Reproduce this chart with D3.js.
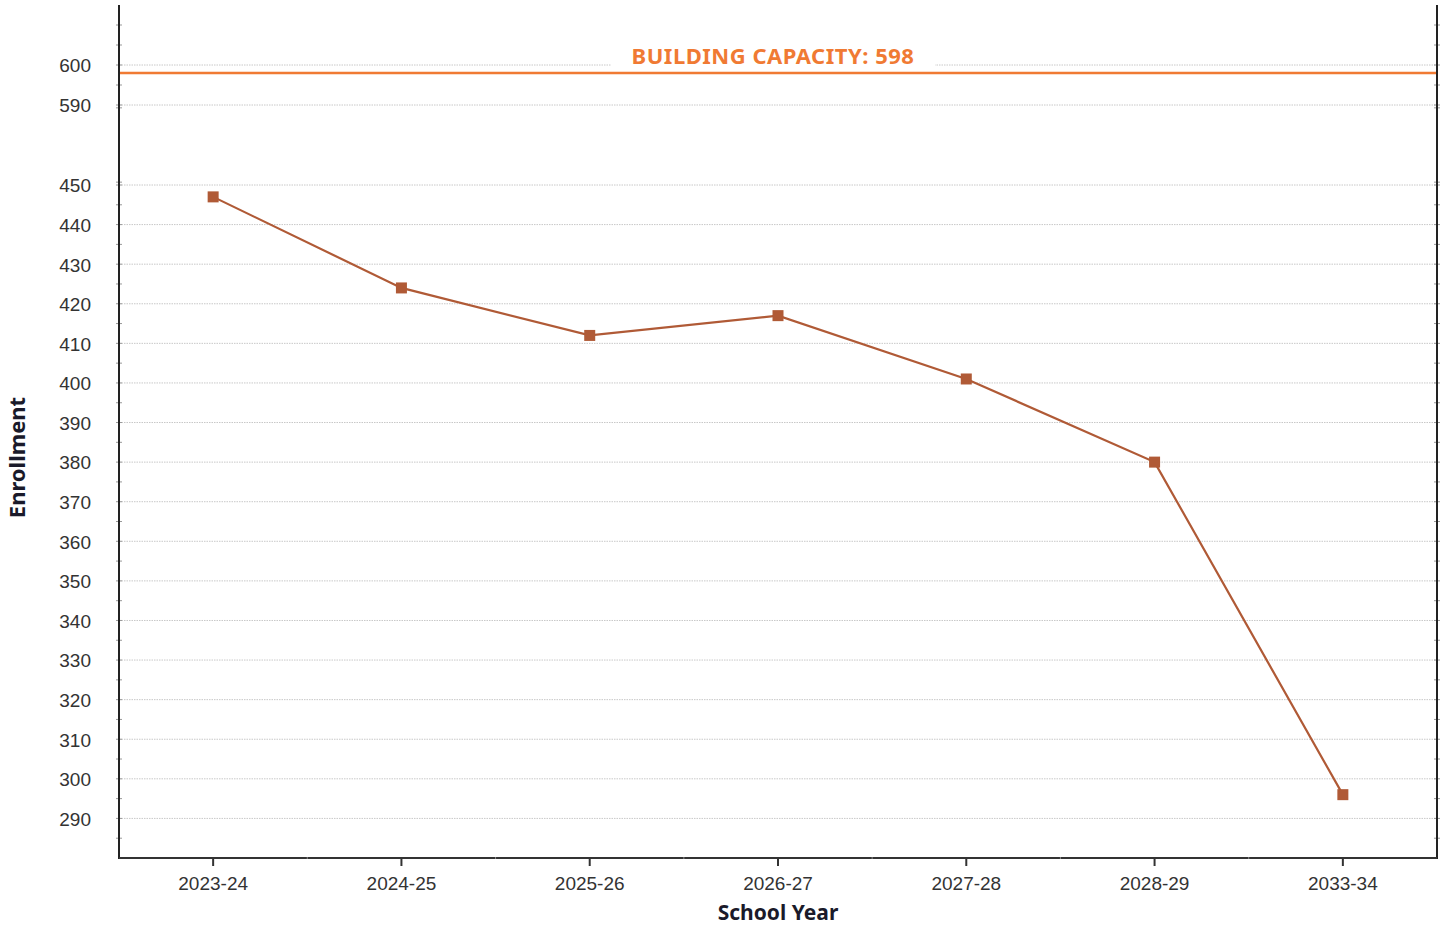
<!DOCTYPE html>
<html>
<head>
<meta charset="utf-8">
<script src="https://cdn.jsdelivr.net/npm/d3@7"></script>
<style>
  body { margin: 0; background: #fff; }
  svg { display: block; font-family: 'Noto Sans', sans-serif; }
  .tick text { fill: #333; font-size: 19px; }
</style>
</head>
<body>
<svg></svg>
<script>
// data
const years = ['2023-24', '2024-25', '2025-26', '2026-27', '2027-28', '2028-29', '2033-34'];
const enrollment = [447, 424, 412, 417, 401, 380, 296];
const capacity = 598;
const yTicks = [290, 300, 310, 320, 330, 340, 350, 360, 370, 380, 390, 400, 410, 420, 430, 440, 450, 590, 600];
const yMinorTicks = [285, 295, 305, 315, 325, 335, 345, 355, 365, 375, 385, 395, 405, 415, 425, 435, 445, 455, 585, 595, 605, 610];

const width = 1442;
const height = 926;
const plotLeft = 119, plotRight = 1437, plotTop = 5, plotBottom = 858;

const svg = d3.select('svg')
  .attr('width', width)
  .attr('height', height);

const xScale = d3.scaleBand()
  .domain(years)
  .range([plotLeft, plotRight]);

// broken axis: piecewise linear with a squeezed gap between 450 and 590
const yScale = d3.scaleLinear()
  .domain([280, 450, 590, 615])
  .range([plotBottom, 185, 105, plotTop]);

const lineColor = '#b05a36';
const capColor = '#f07a33';

// gridlines
svg.append('g')
  .selectAll('line')
  .data(yTicks)
  .enter()
  .append('line')
  .attr('x1', plotLeft)
  .attr('x2', plotRight)
  .attr('y1', d => yScale(d))
  .attr('y2', d => yScale(d))
  .attr('stroke', '#c8c8c8')
  .attr('stroke-width', 1)
  .attr('stroke-dasharray', '1.5,1');

// capacity line + label
svg.append('line')
  .attr('x1', plotLeft)
  .attr('x2', plotRight)
  .attr('y1', yScale(capacity))
  .attr('y2', yScale(capacity))
  .attr('stroke', capColor)
  .attr('stroke-width', 2.5);

const cx = (plotLeft + plotRight) / 2 - 5;
svg.append('rect')
  .attr('x', cx - 162)
  .attr('y', yScale(capacity) - 30)
  .attr('width', 324)
  .attr('height', 28)
  .attr('fill', '#fff');

svg.append('text')
  .attr('x', cx)
  .attr('y', yScale(capacity) - 9)
  .attr('text-anchor', 'middle')
  .attr('fill', capColor)
  .style('font-size', '22px')
  .style('font-weight', 'bold')
  .style('letter-spacing', '0.5px')
  .text(`BUILDING CAPACITY: ${capacity}`);

// axes
const yAxis = d3.axisLeft(yScale)
  .tickValues(yTicks)
  .tickSize(0)
  .tickPadding(28);

svg.append('g')
  .attr('transform', `translate(${plotLeft}, 0)`)
  .call(yAxis)
  .call(g => g.select('.domain').remove())
  .call(g => g.selectAll('.tick text').attr('text-anchor', 'end').attr('dy', '0.36em'));

const xAxis = d3.axisBottom(xScale)
  .tickSize(8)
  .tickPadding(11);

svg.append('g')
  .attr('transform', `translate(0, ${plotBottom})`)
  .call(xAxis)
  .call(g => g.select('.domain').remove())
  .call(g => g.selectAll('.tick line').attr('stroke', '#333').attr('stroke-width', 2));

// minor tick marks on both vertical axes
[plotLeft, plotRight].forEach(xPos => {
  svg.append('g')
    .selectAll('line')
    .data(yMinorTicks.concat(yTicks))
    .enter()
    .append('line')
    .attr('x1', xPos - 3)
    .attr('x2', xPos + 3)
    .attr('y1', d => yScale(d))
    .attr('y2', d => yScale(d))
    .attr('stroke', '#999')
    .attr('stroke-width', 1);
});

// frame lines
svg.append('line')
  .attr('x1', plotLeft).attr('x2', plotLeft)
  .attr('y1', plotTop).attr('y2', plotBottom + 1)
  .attr('stroke', '#222').attr('stroke-width', 2);
svg.append('line')
  .attr('x1', plotRight).attr('x2', plotRight)
  .attr('y1', plotTop).attr('y2', plotBottom + 1)
  .attr('stroke', '#222').attr('stroke-width', 2);
svg.append('line')
  .attr('x1', plotLeft).attr('x2', plotRight)
  .attr('y1', plotBottom).attr('y2', plotBottom)
  .attr('stroke', '#333').attr('stroke-width', 2);

// band boundary marks on the x axis
svg.append('g')
  .selectAll('line')
  .data(years.slice(1))
  .enter()
  .append('line')
  .attr('x1', d => xScale(d))
  .attr('x2', d => xScale(d))
  .attr('y1', plotBottom - 1)
  .attr('y2', plotBottom + 1)
  .attr('stroke', '#888')
  .attr('stroke-width', 1);

// series
const xc = d => xScale(d) + xScale.bandwidth() / 2;
const points = years.map((y, i) => ({ year: y, value: enrollment[i] }));

const line = d3.line()
  .x(d => xc(d.year))
  .y(d => yScale(d.value));

svg.append('path')
  .datum(points)
  .attr('d', line)
  .attr('fill', 'none')
  .attr('stroke', lineColor)
  .attr('stroke-width', 2.2);

svg.selectAll('.marker')
  .data(points)
  .enter()
  .append('rect')
  .attr('class', 'marker')
  .attr('x', d => xc(d.year) - 5.5)
  .attr('y', d => yScale(d.value) - 5.5)
  .attr('width', 11)
  .attr('height', 11)
  .attr('fill', lineColor);

// axis titles
svg.append('text')
  .attr('x', (plotLeft + plotRight) / 2)
  .attr('y', 920)
  .attr('text-anchor', 'middle')
  .attr('fill', '#1a1a2a')
  .style('font-size', '21px')
  .style('font-weight', 'bold')
  .text('School Year');

svg.append('text')
  .attr('transform', `translate(25, ${(plotTop + plotBottom) / 2 + 26}) rotate(-90)`)
  .attr('text-anchor', 'middle')
  .attr('fill', '#1a1a2a')
  .style('font-size', '22px')
  .style('font-weight', 'bold')
  .text('Enrollment');
</script>
</body>
</html>
